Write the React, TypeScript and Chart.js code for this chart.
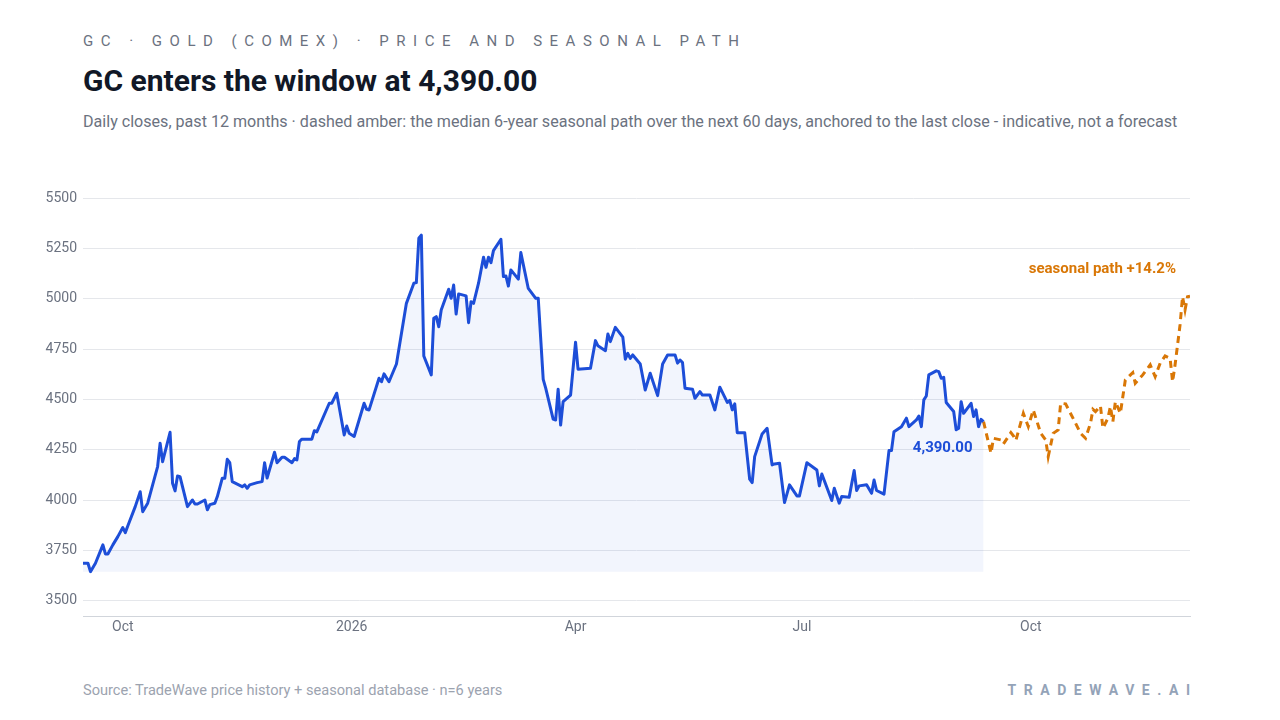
import { useEffect, useRef } from 'react';
import { Chart, registerables } from 'chart.js';

Chart.register(...registerables);

const historyDates = [
  '2025-09-15', '2025-09-17', '2025-09-18', '2025-09-20', '2025-09-23', '2025-09-24', '2025-09-25', '2025-09-27',
  '2025-09-29', '2025-10-01', '2025-10-02', '2025-10-03', '2025-10-06', '2025-10-08', '2025-10-09', '2025-10-11',
  '2025-10-13', '2025-10-15', '2025-10-16', '2025-10-17', '2025-10-20', '2025-10-21', '2025-10-22', '2025-10-23',
  '2025-10-24', '2025-10-27', '2025-10-29', '2025-10-30', '2025-10-31', '2025-11-03', '2025-11-04', '2025-11-05',
  '2025-11-07', '2025-11-08', '2025-11-10', '2025-11-11', '2025-11-12', '2025-11-13', '2025-11-14', '2025-11-18',
  '2025-11-19', '2025-11-20', '2025-11-21', '2025-11-24', '2025-11-26', '2025-11-27', '2025-11-28', '2025-12-01',
  '2025-12-02', '2025-12-04', '2025-12-05', '2025-12-08', '2025-12-09', '2025-12-10', '2025-12-11', '2025-12-12',
  '2025-12-16', '2025-12-17', '2025-12-18', '2025-12-23', '2025-12-24', '2025-12-26', '2025-12-29', '2025-12-30',
  '2025-12-31', '2026-01-02', '2026-01-06', '2026-01-07', '2026-01-08', '2026-01-12', '2026-01-13', '2026-01-14',
  '2026-01-16', '2026-01-19', '2026-01-23', '2026-01-26', '2026-01-27', '2026-01-28', '2026-01-29', '2026-01-30',
  '2026-02-02', '2026-02-03', '2026-02-04', '2026-02-05', '2026-02-06', '2026-02-09', '2026-02-10', '2026-02-11',
  '2026-02-12', '2026-02-13', '2026-02-16', '2026-02-17', '2026-02-18', '2026-02-19', '2026-02-21', '2026-02-23',
  '2026-02-24', '2026-02-25', '2026-02-26', '2026-02-27', '2026-03-02', '2026-03-03', '2026-03-04', '2026-03-05',
  '2026-03-06', '2026-03-09', '2026-03-10', '2026-03-13', '2026-03-16', '2026-03-17', '2026-03-19', '2026-03-20',
  '2026-03-23', '2026-03-24', '2026-03-25', '2026-03-26', '2026-03-27', '2026-03-30', '2026-04-01', '2026-04-02',
  '2026-04-07', '2026-04-09', '2026-04-10', '2026-04-13', '2026-04-14', '2026-04-15', '2026-04-17', '2026-04-20',
  '2026-04-21', '2026-04-22', '2026-04-23', '2026-04-24', '2026-04-27', '2026-04-29', '2026-05-01', '2026-05-04',
  '2026-05-06', '2026-05-08', '2026-05-11', '2026-05-12', '2026-05-13', '2026-05-14', '2026-05-15', '2026-05-18',
  '2026-05-19', '2026-05-21', '2026-05-22', '2026-05-25', '2026-05-27', '2026-05-29', '2026-06-01', '2026-06-02',
  '2026-06-03', '2026-06-04', '2026-06-05', '2026-06-08', '2026-06-10', '2026-06-11', '2026-06-12', '2026-06-15',
  '2026-06-17', '2026-06-19', '2026-06-20', '2026-06-22', '2026-06-24', '2026-06-26', '2026-06-29', '2026-06-30',
  '2026-07-03', '2026-07-07', '2026-07-08', '2026-07-09', '2026-07-13', '2026-07-14', '2026-07-16', '2026-07-17',
  '2026-07-20', '2026-07-22', '2026-07-23', '2026-07-24', '2026-07-27', '2026-07-29', '2026-07-30', '2026-07-31',
  '2026-08-03', '2026-08-05', '2026-08-06', '2026-08-07', '2026-08-10', '2026-08-12', '2026-08-13', '2026-08-16',
  '2026-08-17', '2026-08-18', '2026-08-19', '2026-08-20', '2026-08-21', '2026-08-24', '2026-08-25', '2026-08-26',
  '2026-08-27', '2026-08-28', '2026-08-31', '2026-09-01', '2026-09-02', '2026-09-03', '2026-09-04', '2026-09-07',
  '2026-09-08', '2026-09-09', '2026-09-10', '2026-09-11', '2026-09-12',
];
const historyCloses = [
  3687, 3687, 3645, 3687, 3778, 3733, 3733, 3778,
  3819, 3864, 3839, 3872, 3968, 4042, 3943, 3985,
  4076, 4167, 4283, 4191, 4337, 4084, 4046, 4120,
  4117, 3968, 4001, 3981, 3981, 4001, 3952, 3978,
  3985, 4018, 4109, 4109, 4203, 4186, 4092, 4067,
  4076, 4059, 4076, 4087, 4092, 4186, 4110, 4238,
  4186, 4213, 4213, 4186, 4206, 4200, 4291, 4303,
  4303, 4345, 4339, 4481, 4481, 4531, 4324, 4368,
  4332, 4316, 4481, 4451, 4448, 4605, 4588, 4627,
  4588, 4676, 4977, 5077, 5080, 5300, 5316, 4716,
  4622, 4903, 4911, 4861, 4944, 5047, 5002, 5068,
  4924, 5024, 5014, 4881, 4985, 4977, 5077, 5206,
  5156, 5206, 5179, 5239, 5295, 5110, 5113, 5063,
  5143, 5097, 5229, 5051, 5002, 5002, 4600, 4556,
  4402, 4398, 4551, 4373, 4489, 4522, 4784, 4650,
  4655, 4792, 4766, 4742, 4825, 4787, 4858, 4809,
  4700, 4729, 4704, 4721, 4676, 4547, 4630, 4519,
  4676, 4721, 4721, 4680, 4696, 4683, 4556, 4551,
  4506, 4539, 4522, 4522, 4448, 4561, 4485, 4495,
  4448, 4478, 4335, 4335, 4104, 4087, 4216, 4329,
  4357, 4175, 4180, 4183, 3988, 4076, 4021, 4021,
  4186, 4150, 4071, 4130, 3998, 4059, 3985, 4018,
  4015, 4147, 4048, 4071, 4076, 4034, 4100, 4048,
  4030, 4246, 4246, 4340, 4365, 4407, 4365, 4398,
  4418, 4365, 4498, 4517, 4622, 4642, 4638, 4605,
  4610, 4485, 4440, 4349, 4357, 4489, 4431, 4481,
  4415, 4448, 4365, 4401, 4390,
];

// median 6-year seasonal path, next 60 trading days, anchored to the last close
const seasonalDates = [
  '2026-09-12', '2026-09-15', '2026-09-16', '2026-09-19', '2026-09-20', '2026-09-23', '2026-09-24', '2026-09-25',
  '2026-09-28', '2026-09-30', '2026-10-02', '2026-10-05', '2026-10-07', '2026-10-08', '2026-10-10', '2026-10-12',
  '2026-10-13', '2026-10-15', '2026-10-19', '2026-10-21', '2026-10-23', '2026-10-25', '2026-10-26', '2026-10-27',
  '2026-10-29', '2026-10-30', '2026-11-01', '2026-11-02', '2026-11-03', '2026-11-04', '2026-11-06', '2026-11-08',
  '2026-11-11', '2026-11-12', '2026-11-15', '2026-11-18', '2026-11-20', '2026-11-22', '2026-11-24', '2026-11-26',
  '2026-11-27', '2026-11-28', '2026-11-30', '2026-12-01', '2026-12-02', '2026-12-03', '2026-12-04',
];
const seasonalValues = [
  4390, 4233, 4307, 4299, 4279, 4335, 4319, 4296,
  4431, 4365, 4448, 4332, 4299, 4216, 4332, 4349,
  4481, 4478, 4382, 4332, 4307, 4382, 4451, 4440,
  4468, 4357, 4407, 4465, 4390, 4489, 4431, 4597,
  4633, 4580, 4622, 4672, 4613, 4680, 4716, 4704,
  4588, 4672, 4870, 5010, 4944, 5010, 5013,
];

const yTicks = [3500, 3750, 4000, 4250, 4500, 4750, 5000, 5250, 5500];
const xTickDates = ['2025-10-01', '2026-01-01', '2026-04-01', '2026-07-01', '2026-10-01'];
const xTickLabels = ['Oct', '2026', 'Apr', 'Jul', 'Oct'];

const BLUE = '#1d4ed8';
const AMBER = '#d97706';
const FONT = 'Roboto, "Noto Sans", sans-serif';

const dayNum = (iso: string) => {
  const [y, m, d] = iso.split('-').map(Number);
  return Date.UTC(y, m - 1, d) / 86400000;
};

const lastClose = historyCloses[historyCloses.length - 1];
const seasonalEnd = seasonalValues[seasonalValues.length - 1];
const seasonalPct = ((seasonalEnd / lastClose - 1) * 100).toFixed(1);
const fmtPrice = (v: number) =>
  v.toLocaleString('en-US', { minimumFractionDigits: 2, maximumFractionDigits: 2 });

const endLabels = {
  id: 'endLabels',
  afterDatasetsDraw(chart: any) {
    const { ctx } = chart;
    const hist = chart.getDatasetMeta(0).data;
    const seas = chart.getDatasetMeta(1).data;
    const a = hist[hist.length - 1];
    const b = seas[seas.length - 1];
    ctx.save();
    ctx.font = `700 15px ${FONT}`;
    ctx.textAlign = 'right';
    ctx.textBaseline = 'middle';
    ctx.fillStyle = BLUE;
    ctx.fillText(fmtPrice(lastClose), a.x - 11, a.y + 27);
    ctx.fillStyle = AMBER;
    ctx.fillText(`seasonal path +${seasonalPct}%`, b.x - 14, b.y - 27);
    ctx.restore();
  },
};

function PriceChart() {
  const canvasRef = useRef<HTMLCanvasElement>(null);
  const chartRef = useRef<Chart | null>(null);

  useEffect(() => {
    if (!canvasRef.current) return;
    if (chartRef.current) chartRef.current.destroy();

    chartRef.current = new Chart(canvasRef.current, {
      type: 'line',
      data: {
        datasets: [
          {
            label: 'GC close',
            data: historyDates.map((d, i) => ({ x: dayNum(d), y: historyCloses[i] })),
            borderColor: BLUE,
            borderWidth: 3,
            backgroundColor: 'rgba(29,78,216,0.06)',
            fill: { value: Math.min(...historyCloses) },
            pointRadius: 0,
            tension: 0,
            borderJoinStyle: 'round',
          },
          {
            label: 'seasonal path',
            data: seasonalDates.map((d, i) => ({ x: dayNum(d), y: seasonalValues[i] })),
            borderColor: AMBER,
            borderWidth: 3,
            borderDash: [7, 5],
            fill: false,
            pointRadius: 0,
            tension: 0,
          },
        ],
      },
      options: {
        animation: false,
        responsive: true,
        maintainAspectRatio: false,
        layout: { padding: { top: 18, right: 90, bottom: 0, left: 0 } },
        plugins: {
          legend: { display: false },
          tooltip: { enabled: false },
        },
        scales: {
          x: {
            type: 'linear',
            min: dayNum(historyDates[0]),
            max: dayNum(seasonalDates[seasonalDates.length - 1]),
            afterBuildTicks: (axis: any) => {
              axis.ticks = xTickDates.map((d) => ({ value: dayNum(d) }));
            },
            afterFit: (axis: any) => { axis.height = 44; },
            ticks: {
              autoSkip: false,
              maxRotation: 0,
              padding: 3,
              color: '#6b7280',
              font: { family: FONT, size: 14 },
              callback: (_v: any, i: number) => xTickLabels[i],
            },
            grid: { display: false, drawTicks: false },
            border: { display: true, color: '#d1d5db', width: 1 },
          },
          y: {
            min: 3425,
            max: 5500,
            afterBuildTicks: (axis: any) => {
              axis.ticks = yTicks.map((v) => ({ value: v }));
            },
            afterFit: (axis: any) => { axis.width = 83; },
            ticks: {
              padding: 6,
              color: '#6b7280',
              font: { family: FONT, size: 14 },
              callback: (v: any) => String(v),
            },
            grid: { color: '#e5e7eb', lineWidth: 1, drawTicks: false },
            border: { display: false },
          },
        },
      },
      plugins: [endLabels],
    });

    return () => { chartRef.current?.destroy(); };
  }, []);

  return (
    <div style={{ position: 'absolute', left: 0, top: 180, width: 1280, height: 480 }}>
      <canvas ref={canvasRef} />
    </div>
  );
}

export default function App() {
  return (
    <div
      style={{
        position: 'fixed', left: 0, top: 0, width: 1280, height: 720,
        background: '#ffffff', fontFamily: FONT, overflow: 'hidden',
      }}
    >
      <div style={{
        position: 'absolute', left: 83, top: 32, fontSize: 15, lineHeight: '18px',
        letterSpacing: '0.5em', color: '#6b7280', whiteSpace: 'nowrap',
      }}>
        GC · GOLD (COMEX) · PRICE AND SEASONAL PATH
      </div>
      <div style={{
        position: 'absolute', left: 83, top: 64, fontSize: 30, lineHeight: '34px',
        fontWeight: 700, color: '#111827', whiteSpace: 'nowrap',
      }}>
        GC enters the window at {fmtPrice(lastClose)}
      </div>
      <div style={{
        position: 'absolute', left: 83, top: 112, fontSize: 16.1, lineHeight: '20px',
        color: '#6b7280', whiteSpace: 'nowrap',
      }}>
        Daily closes, past 12 months · dashed amber: the median 6-year seasonal path over the next 60 days, anchored to the last close - indicative, not a forecast
      </div>
      <PriceChart />
      <div style={{
        position: 'absolute', left: 83, top: 681, fontSize: 14.6, lineHeight: '18px',
        color: '#9ca3af', whiteSpace: 'nowrap',
      }}>
        Source: TradeWave price history + seasonal database · n=6 years
      </div>
      <div style={{
        position: 'absolute', right: 90, top: 681, fontSize: 14, lineHeight: '18px',
        fontWeight: 700, letterSpacing: '0.54em', marginRight: '-0.54em', color: '#94a3b8',
        whiteSpace: 'nowrap',
      }}>
        TRADEWAVE.AI
      </div>
    </div>
  );
}
